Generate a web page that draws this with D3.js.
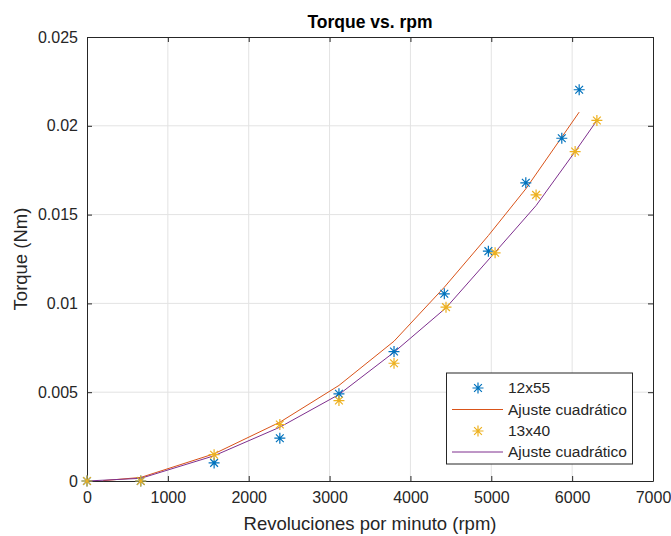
<!DOCTYPE html>
<html><head><meta charset="utf-8">
<script src="https://cdn.jsdelivr.net/npm/d3@7/dist/d3.min.js"></script>
<style>body{margin:0;background:#fff;font-family:"Liberation Sans",Arial,sans-serif;}</style>
</head><body>
<svg id="c" width="671" height="536"></svg>
<script>
// Data
const rpm12x55 = [0, 665, 1572, 2385, 3116, 3797, 4419, 4964, 5427, 5872, 6087];
const torque12x55 = [0, 0, 0.00102, 0.00241, 0.00491, 0.00729, 0.01054, 0.01294, 0.01679, 0.0193, 0.02203];
const fitX12x55 = [200, 665, 1572, 2385, 3116, 3797, 4419, 4964, 5427, 5872, 6087];
const fitY12x55 = [0.00002, 0.0002, 0.00153, 0.00331, 0.00538, 0.00787, 0.01091, 0.01382, 0.01645, 0.01936, 0.02077];
const rpm13x40 = [0, 665, 1572, 2385, 3116, 3797, 4440, 5047, 5554, 6037, 6306];
const torque13x40 = [0, 0, 0.00148, 0.00318, 0.00453, 0.00663, 0.00979, 0.01285, 0.01611, 0.01855, 0.0203];
const fitX13x40 = [0, 665, 1572, 2385, 3116, 3797, 4440, 5047, 5554, 6037, 6306];
const fitY13x40 = [0, 0.00015, 0.00142, 0.00303, 0.00487, 0.00725, 0.00975, 0.01288, 0.01551, 0.01855, 0.0203];
const xTicks = [0, 1000, 2000, 3000, 4000, 5000, 6000, 7000];
const yTicks = [0, 0.005, 0.01, 0.015, 0.02, 0.025];
const yTickLabels = ["0", "0.005", "0.01", "0.015", "0.02", "0.025"];
const legendLabels = ["12x55", "Ajuste cuadrático", "13x40", "Ajuste cuadrático"];

const C = {blue:"#0072BD", orange:"#D95319", yellow:"#EDB120", purple:"#7E2F8E", ax:"#262626", grid:"#e3e3e3"};
const L = 87, R = 653, T = 37, B = 481;
const FONT = '"Liberation Sans", Arial, sans-serif';
const svg = d3.select("#c");
const x = d3.scaleLinear().domain([0, 7000]).range([L, R]);
const y = d3.scaleLinear().domain([0, 0.025]).range([B, T]);

// grid
svg.append("g").selectAll("line").data(xTicks.slice(1,-1)).join("line")
  .attr("x1", d=>x(d)).attr("x2", d=>x(d)).attr("y1", T).attr("y2", B)
  .attr("stroke", C.grid).attr("stroke-width", 1);
svg.append("g").selectAll("line").data(yTicks.slice(1,-1)).join("line")
  .attr("y1", d=>y(d)).attr("y2", d=>y(d)).attr("x1", L).attr("x2", R)
  .attr("stroke", C.grid).attr("stroke-width", 1);

// axes
const fmtY = d => yTickLabels[yTicks.indexOf(d)];
const axB = svg.append("g").attr("transform", `translate(0,${B})`)
  .call(d3.axisBottom(x).tickValues(xTicks).tickFormat(d3.format("d")).tickSizeInner(-5).tickSizeOuter(0).tickPadding(11));
const axL = svg.append("g").attr("transform", `translate(${L},0)`)
  .call(d3.axisLeft(y).tickValues(yTicks).tickFormat(fmtY).tickSizeInner(-5).tickSizeOuter(0).tickPadding(9));
const axT = svg.append("g").attr("transform", `translate(0,${T})`)
  .call(d3.axisTop(x).tickValues(xTicks).tickFormat("").tickSizeInner(-5).tickSizeOuter(0));
const axR = svg.append("g").attr("transform", `translate(${R},0)`)
  .call(d3.axisRight(y).tickValues(yTicks).tickFormat("").tickSizeInner(-5).tickSizeOuter(0));
[axB, axL, axT, axR].forEach(a => {
  a.select(".domain").attr("stroke", C.ax).attr("stroke-width", 1);
  a.selectAll(".tick line").attr("stroke", C.ax);
  a.selectAll("text").attr("fill", C.ax).style("font-size", "16px").style("font-family", FONT);
});

// lines
const line = d3.line().x(d=>x(d[0])).y(d=>y(d[1]));
svg.append("path").datum(d3.zip(fitX12x55, fitY12x55)).attr("d", line)
  .attr("fill", "none").attr("stroke", C.orange).attr("stroke-width", 1);
svg.append("path").datum(d3.zip(fitX13x40, fitY13x40)).attr("d", line)
  .attr("fill", "none").attr("stroke", C.purple).attr("stroke-width", 1);

// star markers
function star(r){
  const d = r*0.7071;
  return `M${-r},0L${r},0M0,${-r}L0,${r}M${-d},${-d}L${d},${d}M${-d},${d}L${d},${-d}`;
}
function drawStars(xs, ys, col){
  svg.append("g").selectAll("path").data(d3.zip(xs, ys)).join("path")
    .attr("transform", d=>`translate(${x(d[0])},${y(d[1])})`)
    .attr("d", star(5.5)).attr("stroke", col).attr("stroke-width", 1.2).attr("fill", "none");
}
drawStars(rpm12x55, torque12x55, C.blue);
drawStars(rpm13x40, torque13x40, C.yellow);

// title & labels
svg.append("text").attr("x", (L+R)/2).attr("y", 28).attr("text-anchor", "middle").style("font-family", FONT)
  .attr("font-weight", "bold").attr("font-size", 17.5).attr("fill", "#000").text("Torque vs. rpm");
svg.append("text").attr("x", (L+R)/2).attr("y", 530).attr("text-anchor", "middle").style("font-family", FONT)
  .attr("font-size", 18.5).attr("fill", C.ax).text("Revoluciones por minuto (rpm)");
svg.append("text").attr("transform", `translate(27,${(T+B)/2}) rotate(-90)`).attr("text-anchor", "middle").style("font-family", FONT)
  .attr("font-size", 18.5).attr("fill", C.ax).text("Torque (Nm)");

// legend
const lg = svg.append("g");
lg.append("rect").attr("x", 446.5).attr("y", 373).attr("width", 186).attr("height", 91)
  .attr("fill", "#fff").attr("stroke", C.ax).attr("stroke-width", 1);
const rowsY = [388, 409.5, 431, 452];
const kinds = [["star", C.blue], ["line", C.orange], ["star", C.yellow], ["line", C.purple]];
legendLabels.forEach((t, i) => {
  const [k, col] = kinds[i];
  if (k === "star") lg.append("path").attr("transform", `translate(478,${rowsY[i]})`).attr("d", star(5.5))
    .attr("stroke", col).attr("stroke-width", 1.2).attr("fill", "none");
  else lg.append("line").attr("x1", 452).attr("x2", 503).attr("y1", rowsY[i]).attr("y2", rowsY[i])
    .attr("stroke", col).attr("stroke-width", 1);
  lg.append("text").attr("x", 508).attr("y", rowsY[i]).attr("dy", "0.35em").style("font-family", FONT)
    .attr("font-size", 15.5).attr("fill", C.ax).text(t);
});
</script>
</body></html>
